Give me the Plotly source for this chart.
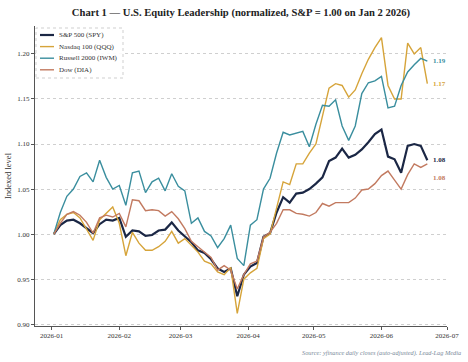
import pandas as pd
import plotly.graph_objects as go

dates = pd.date_range("2026-01-02", "2026-06-22", freq="3D")

spy = [1.000, 1.010, 1.015, 1.016, 1.012, 1.007, 1.001, 1.011, 1.016, 1.015,
       1.018, 0.997, 1.004, 1.003, 0.998, 0.999, 1.004, 1.005, 1.013, 1.004,
       0.998, 0.991, 0.982, 0.979, 0.972, 0.962, 0.958, 0.962, 0.931, 0.955,
       0.964, 0.968, 0.997, 1.001, 1.024, 1.041, 1.035, 1.045, 1.046, 1.050,
       1.056, 1.063, 1.081, 1.085, 1.095, 1.085, 1.088, 1.094, 1.102, 1.111,
       1.116, 1.086, 1.083, 1.068, 1.098, 1.100, 1.098, 1.082]

qqq = [1.000, 1.016, 1.022, 1.024, 1.018, 1.005, 0.993, 1.016, 1.023, 1.030,
       1.012, 0.976, 1.002, 0.990, 0.982, 0.982, 0.986, 0.992, 1.003, 0.990,
       0.995, 0.988, 0.980, 0.970, 0.967, 0.958, 0.955, 0.963, 0.912, 0.950,
       0.957, 0.962, 0.995, 1.000, 1.030, 1.058, 1.055, 1.078, 1.078, 1.090,
       1.100, 1.130, 1.162, 1.167, 1.165, 1.152, 1.160, 1.178, 1.194, 1.207,
       1.218, 1.165, 1.150, 1.150, 1.212, 1.200, 1.207, 1.167]

iwm = [1.000, 1.024, 1.042, 1.050, 1.064, 1.068, 1.058, 1.082, 1.063, 1.050,
       1.054, 1.032, 1.068, 1.070, 1.046, 1.058, 1.062, 1.048, 1.067, 1.053,
       1.048, 1.012, 1.018, 1.003, 0.998, 0.985, 0.995, 1.010, 0.973, 0.965,
       1.010, 1.016, 1.050, 1.062, 1.090, 1.113, 1.110, 1.112, 1.114, 1.097,
       1.122, 1.143, 1.142, 1.149, 1.120, 1.104, 1.120, 1.156, 1.168, 1.170,
       1.175, 1.140, 1.142, 1.165, 1.180, 1.188, 1.195, 1.192]

dia = [1.000, 1.012, 1.022, 1.025, 1.021, 1.013, 1.001, 1.018, 1.021, 1.019,
       1.023, 1.008, 1.038, 1.037, 1.026, 1.027, 1.026, 1.020, 1.025, 1.017,
       1.006, 0.992, 0.986, 0.980, 0.974, 0.960, 0.965, 0.960, 0.939, 0.955,
       0.967, 0.970, 0.997, 1.002, 1.012, 1.027, 1.027, 1.023, 1.022, 1.020,
       1.024, 1.034, 1.031, 1.035, 1.035, 1.035, 1.040, 1.049, 1.050, 1.056,
       1.065, 1.070, 1.060, 1.050, 1.066, 1.078, 1.074, 1.078]

names = ["S&P 500 (SPY)", "Nasdaq 100 (QQQ)", "Russell 2000 (IWM)", "Dow (DIA)"]
colors = ["#1b2745", "#d6a43a", "#3a8e9e", "#c27a60"]
widths = [2.2, 1.4, 1.4, 1.4]
label_shift = [0, 0, 0, -14]

FONT = "'Liberation Serif', 'DejaVu Serif', serif"

W, H = 468, 362
ML, MR, MT, MB = 35, 21, 26, 36
PW, PH = W - ML - MR, H - MT - MB


def px_x(p):
    return (p - ML) / PW


def px_y(p):
    return 1 - (p - MT) / PH


fig = go.Figure()
series = [spy, qqq, iwm, dia]
for s, n, c, w in zip(series, names, colors, widths):
    fig.add_trace(go.Scatter(x=dates, y=s, name=n, mode="lines",
                             line=dict(color=c, width=w), showlegend=False))

for s, c, sh in zip(series, colors, label_shift):
    fig.add_annotation(x=dates[-1], y=s[-1], text=f"<b>{s[-1]:.2f}</b>",
                       xanchor="left", yanchor="middle", showarrow=False,
                       xshift=4, yshift=sh, font=dict(size=7, color=c, family=FONT))

# compact legend box
fig.add_shape(type="rect", xref="paper", yref="paper",
              x0=px_x(36), x1=px_x(123), y0=px_y(78), y1=px_y(28),
              line=dict(color="#cfcfcf", width=1, dash="dot"),
              fillcolor="rgba(255,255,255,0.92)", layer="above")
for i, (n, c, w) in enumerate(zip(names, colors, widths)):
    yy = 35 + 11.6 * i
    fig.add_shape(type="line", xref="paper", yref="paper",
                  x0=px_x(40), x1=px_x(54), y0=px_y(yy), y1=px_y(yy),
                  line=dict(color=c, width=w), layer="above")
    fig.add_annotation(xref="paper", yref="paper", x=px_x(57), y=px_y(yy),
                       text=n, xanchor="left", yanchor="middle", showarrow=False,
                       font=dict(size=7, color="#333", family=FONT))

fig.add_annotation(text="<i>Source: yfinance daily closes (auto-adjusted). Lead-Lag Media</i>",
                   xref="paper", yref="paper", x=1.038, y=px_y(347), xanchor="right",
                   yanchor="top", showarrow=False,
                   font=dict(size=6.3, color="#7a8a9a", family=FONT))

fig.update_layout(
    width=W, height=H,
    margin=dict(l=ML, r=MR, t=MT, b=MB),
    paper_bgcolor="white", plot_bgcolor="white",
    font=dict(family=FONT, color="#333"),
    title=dict(text="<b>Chart 1 — U.S. Equity Leadership (normalized, S&P = 1.00 on Jan 2 2026)</b>",
               x=0.515, xanchor="center", y=0.967, yanchor="middle",
               font=dict(size=10.6, color="#222", family=FONT)),
    showlegend=False,
    xaxis=dict(range=["2025-12-24 10:00", "2026-07-01"], tickformat="%Y-%m",
               dtick="M1", tick0="2026-01-01", showgrid=False, automargin=False,
               showline=True, linecolor="#555", linewidth=1,
               ticks="outside", ticklen=3, tickcolor="#555",
               tickfont=dict(size=7, family=FONT, color="#333"), zeroline=False),
    yaxis=dict(range=[0.898, 1.231], tickvals=[0.90, 0.95, 1.00, 1.05, 1.10, 1.15, 1.20],
               tickformat=".2f", showgrid=True, gridcolor="#cfcfcf", griddash="dot",
               gridwidth=1, showline=True, linecolor="#555", linewidth=1, automargin=False,
               ticks="outside", ticklen=3, tickcolor="#555", zeroline=False,
               tickfont=dict(size=7, family=FONT, color="#333"),
               title=dict(text="Indexed level", standoff=4,
                          font=dict(size=8.5, family=FONT, color="#333"))),
)

fig.write_html("out.html")
